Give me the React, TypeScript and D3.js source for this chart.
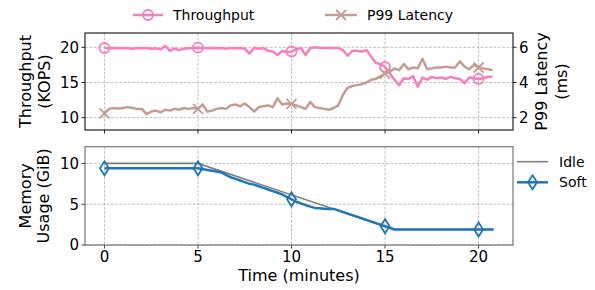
import React from 'react';
import * as d3 from 'd3';

// time samples (minutes)
const times = [
  0, 0.25, 0.5, 0.75, 1, 1.25, 1.5, 1.75, 2, 2.25, 2.5, 2.75, 3, 3.25, 3.5, 3.75, 4, 4.25, 4.5, 4.75,
  5, 5.25, 5.5, 5.75, 6, 6.25, 6.5, 6.75, 7, 7.25, 7.5, 7.75, 8, 8.25, 8.5, 8.75, 9, 9.25, 9.5, 9.75,
  10, 10.25, 10.5, 10.75, 11, 11.25, 11.5, 11.75, 12, 12.25, 12.5, 12.75, 13, 13.25, 13.5, 13.75, 14, 14.25, 14.5, 14.75,
  15, 15.25, 15.5, 15.75, 16, 16.25, 16.5, 16.75, 17, 17.25, 17.5, 17.75, 18, 18.25, 18.5, 18.75, 19, 19.25, 19.5, 19.75,
  20, 20.25, 20.5, 20.75,
];

const throughput = [
  19.9, 19.85, 19.9, 19.85, 19.9, 19.85, 19.8, 19.9, 19.85, 19.9, 19.8, 19.85, 19.7, 20.2, 19.5, 19.8, 19.6, 19.8, 19.85, 19.9,
  19.95, 19.9, 19.85, 19.9, 19.85, 19.9, 19.8, 19.9, 19.85, 19.9, 19.8, 19.1, 19.9, 19.8, 19.9, 19.5, 19.4, 18.9, 19.5, 19.3,
  19.4, 19.7, 19.9, 18.9, 19.9, 20.0, 19.95, 19.9, 19.95, 19.9, 19.9, 19.6, 18.8, 19.5, 19.5, 19.4, 19.6, 18.7, 17.8, 17.6,
  17.2, 16.3, 15.4, 14.6, 15.6, 15.5, 15.9, 14.4, 15.7, 15.4, 15.8, 15.6, 15.7, 15.5, 15.8, 15.6, 15.5, 14.9, 15.7, 15.6,
  15.5, 15.6, 15.8, 15.8,
];

const latency = [
  2.25, 2.5, 2.55, 2.52, 2.55, 2.6, 2.55, 2.5, 2.5, 2.2, 2.35, 2.4, 2.3, 2.45, 2.4, 2.5, 2.45, 2.55, 2.5, 2.55,
  2.5, 2.75, 2.35, 2.4, 2.5, 2.55, 2.5, 2.7, 2.75, 2.65, 2.8, 2.6, 2.35, 2.6, 2.65, 2.7, 2.6, 3.1, 2.75, 2.8,
  2.78, 2.7, 2.6, 2.5, 2.9, 2.6, 2.55, 2.5, 2.45, 2.55, 2.7, 3.3, 3.7, 3.8, 3.85, 3.9, 4.0, 4.15, 4.2, 4.35,
  4.5, 4.6, 4.8, 4.7, 5.05, 4.75, 4.85, 4.8, 5.35, 4.75, 4.8, 4.85, 4.85, 4.9, 4.85, 4.85, 5.2, 4.9, 4.75, 5.0,
  4.85, 4.8, 4.75, 4.7,
];

const idleTimes = [0, 5, 15.5, 20.8];
const idleMem = [10, 10, 1.9, 1.9];

const softTimes = [0, 5, 5.5, 6, 6.25, 6.5, 6.75, 7, 7.25, 7.5, 7.75, 8, 8.25, 8.5, 8.75, 9, 9.25, 9.5, 9.75,
  10, 10.25, 10.5, 10.75, 11, 11.25, 11.5, 11.75, 12, 12.3, 15, 15.5, 20.8];
const softMem = [9.4, 9.4, 9.2, 9.0, 8.9, 8.6, 8.3, 8.1, 7.9, 7.7, 7.5, 7.4, 7.2, 7.0, 6.8, 6.6, 6.4, 6.2, 5.9,
  5.6, 5.3, 5.1, 4.9, 4.7, 4.55, 4.5, 4.45, 4.4, 4.4, 2.3, 1.9, 1.9];

const markerTimes = [0, 5, 10, 15, 20];
const xTicks = [0, 5, 10, 15, 20];
const tpTicks = [10, 15, 20];
const latTicks = [2, 4, 6];
const memTicks = [0, 5, 10];

const PINK = '#f77fbe';
const BROWN = '#c49c94';
const BLUE = '#1f77b4';
const GRAY = '#7f7f7f';
const FONT = 'DejaVu Sans, sans-serif';
const TICK_FS = 15;
const LABEL_FS = 16;
const LEG_FS = 14;

const left = 85, right = 513;
const top1 = 33, bot1 = 130;
const top2 = 146.7, bot2 = 245;

const x = d3.scaleLinear().domain([-1.04, 21.84]).range([left, right]);
const yTp = d3.scaleLinear().domain([8.25, 22.03]).range([bot1, top1]);
const yLat = d3.scaleLinear().domain([1.3, 6.81]).range([bot1, top1]);
const yMem = d3.scaleLinear().domain([0, 12.05]).range([bot2, top2]);

const nearest = (arr: number[], t: number) => {
  let best = 0;
  arr.forEach((v, i) => { if (Math.abs(v - t) < Math.abs(arr[best] - t)) best = i; });
  return best;
};

const Circle = ({ cx, cy, color }: any) => (
  <circle cx={cx} cy={cy} r={5} fill="none" stroke={color} strokeWidth={1.8} />
);
const Cross = ({ cx, cy, color }: any) => (
  <path d={`M${cx - 5},${cy - 5}L${cx + 5},${cy + 5}M${cx - 5},${cy + 5}L${cx + 5},${cy - 5}`} stroke={color} strokeWidth={1.8} />
);
const Diamond = ({ cx, cy, color }: any) => (
  <path d={`M${cx},${cy - 7}L${cx + 4.5},${cy}L${cx},${cy + 7}L${cx - 4.5},${cy}Z`} fill="none" stroke={color} strokeWidth={1.8} />
);

export default function App() {
  const tpLine = d3.line<number>().x((_, i) => x(times[i])).y(d => yTp(d))(throughput) || '';
  const latLine = d3.line<number>().x((_, i) => x(times[i])).y(d => yLat(d))(latency) || '';
  const idleLine = d3.line<number>().x((_, i) => x(idleTimes[i])).y(d => yMem(d))(idleMem) || '';
  const softLine = d3.line<number>().x((_, i) => x(softTimes[i])).y(d => yMem(d))(softMem) || '';

  const grid = { stroke: '#b0b0b0', strokeWidth: 0.8, strokeDasharray: '2.8,1.5' };
  const midTop = (top1 + bot1) / 2;
  const midBot = (top2 + bot2) / 2;

  return (
    <svg width={595} height={290} style={{ position: 'absolute', left: 0, top: 0 }} fontFamily={FONT}>
      <rect width={595} height={290} fill="white" />

      {/* top panel */}
      {xTicks.map(t => <line key={'gx1' + t} x1={x(t)} x2={x(t)} y1={top1} y2={bot1} {...grid} />)}
      {tpTicks.map(t => <line key={'gy1' + t} x1={left} x2={right} y1={yTp(t)} y2={yTp(t)} {...grid} />)}
      <path d={tpLine} fill="none" stroke={PINK} strokeWidth={2.5} strokeLinejoin="round" />
      <path d={latLine} fill="none" stroke={BROWN} strokeWidth={2.5} strokeLinejoin="round" />
      {markerTimes.map(t => {
        const i = nearest(times, t);
        return <Circle key={'c' + t} cx={x(times[i])} cy={yTp(throughput[i])} color={PINK} />;
      })}
      {markerTimes.map(t => {
        const i = nearest(times, t);
        return <Cross key={'x' + t} cx={x(times[i])} cy={yLat(latency[i])} color={BROWN} />;
      })}
      <rect x={left} y={top1} width={right - left} height={bot1 - top1} fill="none" stroke="#222" strokeWidth={1.2} />
      {xTicks.map(t => <line key={'tx1' + t} x1={x(t)} x2={x(t)} y1={bot1} y2={bot1 + 3.5} stroke="#222" />)}
      {tpTicks.map(t => (
        <g key={'ty1' + t}>
          <line x1={left - 3.5} x2={left} y1={yTp(t)} y2={yTp(t)} stroke="#222" />
          <text x={left - 6} y={yTp(t)} dy="0.36em" textAnchor="end" fontSize={TICK_FS}>{t}</text>
        </g>
      ))}
      {latTicks.map(t => (
        <g key={'tl1' + t}>
          <line x1={right} x2={right + 3.5} y1={yLat(t)} y2={yLat(t)} stroke="#222" />
          <text x={right + 6} y={yLat(t)} dy="0.36em" textAnchor="start" fontSize={TICK_FS}>{t}</text>
        </g>
      ))}
      <text transform={`translate(25,${midTop}) rotate(-90)`} textAnchor="middle" dominantBaseline="central" fontSize={LABEL_FS}>Throughput</text>
      <text transform={`translate(44,${midTop}) rotate(-90)`} textAnchor="middle" dominantBaseline="central" fontSize={LABEL_FS}>(KOPS)</text>
      <text transform={`translate(541,${midTop}) rotate(-90)`} textAnchor="middle" dominantBaseline="central" fontSize={LABEL_FS}>P99 Latency</text>
      <text transform={`translate(561,${midTop}) rotate(-90)`} textAnchor="middle" dominantBaseline="central" fontSize={LABEL_FS}>(ms)</text>

      {/* top legend */}
      <line x1={133} x2={163} y1={15} y2={15} stroke={PINK} strokeWidth={2.5} />
      <Circle cx={148} cy={15} color={PINK} />
      <text x={173} y={15} dy="0.36em" fontSize={LEG_FS}>Throughput</text>
      <line x1={325} x2={357} y1={15} y2={15} stroke={BROWN} strokeWidth={2.5} />
      <Cross cx={341} cy={15} color={BROWN} />
      <text x={367} y={15} dy="0.36em" fontSize={LEG_FS}>P99 Latency</text>

      {/* bottom panel */}
      {xTicks.map(t => <line key={'gx2' + t} x1={x(t)} x2={x(t)} y1={top2} y2={bot2} {...grid} />)}
      {memTicks.map(t => <line key={'gy2' + t} x1={left} x2={right} y1={yMem(t)} y2={yMem(t)} {...grid} />)}
      <path d={idleLine} fill="none" stroke={GRAY} strokeWidth={1.6} />
      <path d={softLine} fill="none" stroke={BLUE} strokeWidth={2.5} strokeLinejoin="round" />
      {markerTimes.map(t => (
        <Diamond key={'d' + t} cx={x(t)} cy={yMem(softMem[nearest(softTimes, t)])} color={BLUE} />
      ))}
      <rect x={left} y={top2} width={right - left} height={bot2 - top2} fill="none" stroke="#777" strokeWidth={1.2} />
      {xTicks.map(t => (
        <g key={'tx2' + t}>
          <line x1={x(t)} x2={x(t)} y1={bot2} y2={bot2 + 3.5} stroke="#444" />
          <text x={x(t)} y={257} dy="0.36em" textAnchor="middle" fontSize={TICK_FS}>{t}</text>
        </g>
      ))}
      {memTicks.map(t => (
        <g key={'ty2' + t}>
          <line x1={left - 3.5} x2={left} y1={yMem(t)} y2={yMem(t)} stroke="#444" />
          <text x={left - 6} y={yMem(t)} dy="0.36em" textAnchor="end" fontSize={TICK_FS}>{t}</text>
        </g>
      ))}
      <text transform={`translate(25,${midBot}) rotate(-90)`} textAnchor="middle" dominantBaseline="central" fontSize={LABEL_FS}>Memory</text>
      <text transform={`translate(43,${midBot}) rotate(-90)`} textAnchor="middle" dominantBaseline="central" fontSize={LABEL_FS}>Usage (GiB)</text>
      <text x={(left + right) / 2} y={275} dy="0.36em" textAnchor="middle" fontSize={LABEL_FS}>Time (minutes)</text>

      {/* bottom legend */}
      <line x1={517} x2={548} y1={161.7} y2={161.7} stroke={GRAY} strokeWidth={1.6} />
      <text x={559} y={161.7} dy="0.36em" fontSize={LEG_FS}>Idle</text>
      <line x1={517} x2={548} y1={182.3} y2={182.3} stroke={BLUE} strokeWidth={2.5} />
      <Diamond cx={532.5} cy={182.3} color={BLUE} />
      <text x={559} y={182.3} dy="0.36em" fontSize={LEG_FS}>Soft</text>
    </svg>
  );
}
